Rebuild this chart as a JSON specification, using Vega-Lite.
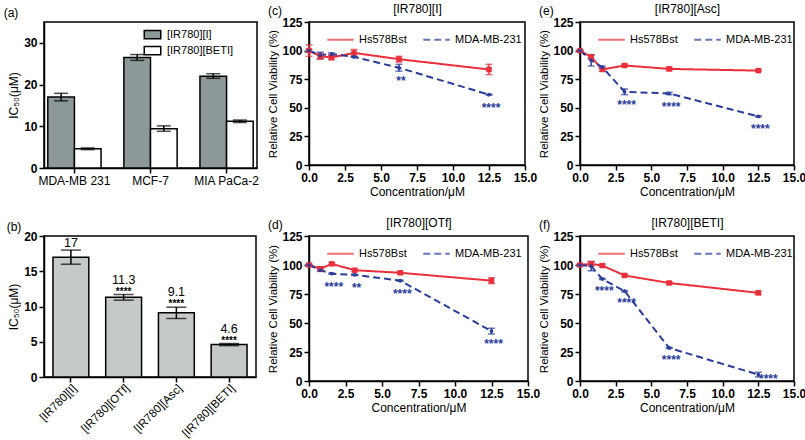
{
  "$schema": "https://vega.github.io/schema/vega-lite/v6.json",
  "padding": {"left": 2, "top": 1, "right": 2, "bottom": 0},
  "background": "white",
  "config": {
    "font": "Liberation Sans",
    "view": {"stroke": "black", "strokeWidth": 1.5},
    "axis": {
      "labelFont": "Liberation Sans", "labelFontSize": 12, "labelColor": "black", "labelFontWeight": "bold", "labelFlush": false,
      "titleFont": "Liberation Sans", "titleFontSize": 12, "titleFontWeight": "normal", "titleColor": "black",
      "domainColor": "black", "domainWidth": 1.5, "tickColor": "black", "tickWidth": 1.5, "tickSize": 5,
      "grid": false, "labelPadding": 2, "titlePadding": 3
    },
    "title": {"font": "Liberation Sans", "fontSize": 12, "fontWeight": "normal", "color": "black"},
    "legend": {"labelFont": "Liberation Sans", "labelFontSize": 11, "labelColor": "black"}
  },
  "resolve": {
    "scale": {"color": "independent", "strokeDash": "independent", "fill": "independent"},
    "legend": {"color": "independent", "strokeDash": "independent", "fill": "independent"}
  },
  "datasets": {
    "a": [
      {"cell": "MDA-MB 231", "compound": "[IR780][I]", "ic50": 17, "lo": 16.1, "hi": 17.9},
      {"cell": "MDA-MB 231", "compound": "[IR780][BETI]", "ic50": 4.6, "lo": 4.4, "hi": 4.8},
      {"cell": "MCF-7", "compound": "[IR780][I]", "ic50": 26.5, "lo": 25.8, "hi": 27.2},
      {"cell": "MCF-7", "compound": "[IR780][BETI]", "ic50": 9.4, "lo": 8.8, "hi": 10.1},
      {"cell": "MIA PaCa-2", "compound": "[IR780][I]", "ic50": 22, "lo": 21.5, "hi": 22.6},
      {"cell": "MIA PaCa-2", "compound": "[IR780][BETI]", "ic50": 11.2, "lo": 10.9, "hi": 11.5}
    ],
    "b": [
      {"compound": "[IR780][I]", "ic50": 17, "lo": 16, "hi": 18, "label": "17", "stars": ""},
      {"compound": "[IR780][OTf]", "ic50": 11.3, "lo": 10.9, "hi": 11.7, "label": "11.3", "stars": "****"},
      {"compound": "[IR780][Asc]", "ic50": 9.1, "lo": 8.3, "hi": 9.9, "label": "9.1", "stars": "****"},
      {"compound": "[IR780][BETI]", "ic50": 4.6, "lo": 4.45, "hi": 4.75, "label": "4.6", "stars": "****"}
    ],
    "via": [
      {"panel": "c", "series": "Hs578Bst", "conc": 0, "v": 100, "lo": 95, "hi": 105, "stars": ""},
      {"panel": "c", "series": "Hs578Bst", "conc": 0.78, "v": 95, "lo": 92.5, "hi": 97.5, "stars": ""},
      {"panel": "c", "series": "Hs578Bst", "conc": 1.56, "v": 94, "lo": 92, "hi": 96, "stars": ""},
      {"panel": "c", "series": "Hs578Bst", "conc": 3.125, "v": 98, "lo": 95, "hi": 101, "stars": ""},
      {"panel": "c", "series": "Hs578Bst", "conc": 6.25, "v": 92.5, "lo": 90, "hi": 95, "stars": ""},
      {"panel": "c", "series": "Hs578Bst", "conc": 12.5, "v": 83.5, "lo": 79, "hi": 88, "stars": ""},
      {"panel": "c", "series": "MDA-MB-231", "conc": 0, "v": 100, "lo": 99, "hi": 101, "stars": ""},
      {"panel": "c", "series": "MDA-MB-231", "conc": 0.78, "v": 96, "lo": 93, "hi": 98.5, "stars": ""},
      {"panel": "c", "series": "MDA-MB-231", "conc": 1.56, "v": 97, "lo": 96, "hi": 98, "stars": ""},
      {"panel": "c", "series": "MDA-MB-231", "conc": 3.125, "v": 94.5, "lo": 94, "hi": 95, "stars": ""},
      {"panel": "c", "series": "MDA-MB-231", "conc": 6.25, "v": 85, "lo": 82, "hi": 88, "stars": "**"},
      {"panel": "c", "series": "MDA-MB-231", "conc": 12.5, "v": 61.5, "lo": 61, "hi": 62, "stars": "****"},

      {"panel": "d", "series": "Hs578Bst", "conc": 0, "v": 100, "lo": 99.5, "hi": 100.5, "stars": ""},
      {"panel": "d", "series": "Hs578Bst", "conc": 0.78, "v": 96.8, "lo": 95, "hi": 98.5, "stars": ""},
      {"panel": "d", "series": "Hs578Bst", "conc": 1.56, "v": 101, "lo": 100, "hi": 102, "stars": ""},
      {"panel": "d", "series": "Hs578Bst", "conc": 3.125, "v": 95.5, "lo": 94.5, "hi": 96.5, "stars": ""},
      {"panel": "d", "series": "Hs578Bst", "conc": 6.25, "v": 93.3, "lo": 92.5, "hi": 94, "stars": ""},
      {"panel": "d", "series": "Hs578Bst", "conc": 12.5, "v": 86.5, "lo": 84, "hi": 89, "stars": ""},
      {"panel": "d", "series": "MDA-MB-231", "conc": 0, "v": 100, "lo": 99.5, "hi": 100.5, "stars": ""},
      {"panel": "d", "series": "MDA-MB-231", "conc": 0.78, "v": 95.5, "lo": 94.5, "hi": 96.5, "stars": ""},
      {"panel": "d", "series": "MDA-MB-231", "conc": 1.56, "v": 92.5, "lo": 92, "hi": 93, "stars": "****"},
      {"panel": "d", "series": "MDA-MB-231", "conc": 3.125, "v": 91.5, "lo": 91, "hi": 92, "stars": "**"},
      {"panel": "d", "series": "MDA-MB-231", "conc": 6.25, "v": 86.5, "lo": 86, "hi": 87, "stars": "****"},
      {"panel": "d", "series": "MDA-MB-231", "conc": 12.5, "v": 43, "lo": 40.5, "hi": 45.5, "stars": "****"},

      {"panel": "e", "series": "Hs578Bst", "conc": 0, "v": 100, "lo": 99.5, "hi": 100.5, "stars": ""},
      {"panel": "e", "series": "Hs578Bst", "conc": 0.78, "v": 94.5, "lo": 93, "hi": 96, "stars": ""},
      {"panel": "e", "series": "Hs578Bst", "conc": 1.56, "v": 83.5, "lo": 82, "hi": 85, "stars": ""},
      {"panel": "e", "series": "Hs578Bst", "conc": 3.125, "v": 87, "lo": 86, "hi": 88, "stars": ""},
      {"panel": "e", "series": "Hs578Bst", "conc": 6.25, "v": 84, "lo": 82.5, "hi": 85.5, "stars": ""},
      {"panel": "e", "series": "Hs578Bst", "conc": 12.5, "v": 82.5, "lo": 82, "hi": 83, "stars": ""},
      {"panel": "e", "series": "MDA-MB-231", "conc": 0, "v": 100, "lo": 99.5, "hi": 100.5, "stars": ""},
      {"panel": "e", "series": "MDA-MB-231", "conc": 0.78, "v": 91.5, "lo": 86.5, "hi": 96.5, "stars": ""},
      {"panel": "e", "series": "MDA-MB-231", "conc": 1.56, "v": 85.5, "lo": 84.5, "hi": 86.5, "stars": ""},
      {"panel": "e", "series": "MDA-MB-231", "conc": 3.125, "v": 64, "lo": 61.5, "hi": 66.5, "stars": "****"},
      {"panel": "e", "series": "MDA-MB-231", "conc": 6.25, "v": 62.5, "lo": 61.5, "hi": 63.5, "stars": "****"},
      {"panel": "e", "series": "MDA-MB-231", "conc": 12.5, "v": 42.5, "lo": 42, "hi": 43, "stars": "****"},

      {"panel": "f", "series": "Hs578Bst", "conc": 0, "v": 100, "lo": 99.5, "hi": 100.5, "stars": ""},
      {"panel": "f", "series": "Hs578Bst", "conc": 0.78, "v": 101, "lo": 99, "hi": 103, "stars": ""},
      {"panel": "f", "series": "Hs578Bst", "conc": 1.56, "v": 99.5, "lo": 98.5, "hi": 100.5, "stars": ""},
      {"panel": "f", "series": "Hs578Bst", "conc": 3.125, "v": 91, "lo": 90, "hi": 92, "stars": ""},
      {"panel": "f", "series": "Hs578Bst", "conc": 6.25, "v": 84.5, "lo": 83.5, "hi": 85.5, "stars": ""},
      {"panel": "f", "series": "Hs578Bst", "conc": 12.5, "v": 76, "lo": 74.5, "hi": 77.5, "stars": ""},
      {"panel": "f", "series": "MDA-MB-231", "conc": 0, "v": 100, "lo": 99.5, "hi": 100.5, "stars": ""},
      {"panel": "f", "series": "MDA-MB-231", "conc": 0.78, "v": 99, "lo": 95, "hi": 103, "stars": ""},
      {"panel": "f", "series": "MDA-MB-231", "conc": 1.56, "v": 88, "lo": 87.5, "hi": 88.5, "stars": "****"},
      {"panel": "f", "series": "MDA-MB-231", "conc": 3.125, "v": 77.5, "lo": 77, "hi": 78, "stars": "****"},
      {"panel": "f", "series": "MDA-MB-231", "conc": 6.25, "v": 28.5, "lo": 28, "hi": 29, "stars": "****"},
      {"panel": "f", "series": "MDA-MB-231", "conc": 12.5, "v": 5.5, "lo": 3.5, "hi": 7.5, "stars": "****"}
    ]
  },
  "columns": 3,
  "spacing": {"row": 68, "column": 52},
  "bounds": "flush",
  "align": "each",
  "concat": [
    {
      "width": 213, "height": 146,
      "title": {"text": "(a)", "anchor": "start", "dx": -4, "offset": 2},
      "data": {"name": "a"},
      "encoding": {
        "x": {"field": "cell", "type": "nominal", "sort": ["MDA-MB 231", "MCF-7", "MIA PaCa-2"], "scale": {"paddingInner": 0.3, "paddingOuter": 0.05}, "axis": {"labelAngle": 0, "title": null, "labelFontWeight": "normal"}},
        "xOffset": {"field": "compound", "type": "nominal", "sort": ["[IR780][I]", "[IR780][BETI]"]}
      },
      "layer": [
        {
          "mark": {"type": "bar", "stroke": "black", "strokeWidth": 1.5},
          "encoding": {
            "y": {"field": "ic50", "type": "quantitative", "scale": {"domain": [0, 35], "padding": 0, "nice": false}, "axis": {"values": [0, 10, 20, 30]}, "title": "IC₅₀(μM)"},
            "fill": {"field": "compound", "type": "nominal", "scale": {"domain": ["[IR780][I]", "[IR780][BETI]"], "range": ["#8d9898", "#ffffff"]},
              "legend": {"orient": "none", "legendX": 100, "legendY": 4, "title": null, "symbolType": "M-1.1,-0.55H1.1V0.55H-1.1Z", "symbolSize": 225, "symbolStrokeColor": "black", "symbolStrokeWidth": 1.5, "labelFontSize": 11, "rowPadding": 0, "labelOffset": 6}}
          }
        },
        {
          "mark": {"type": "rule", "color": "black", "strokeWidth": 1.5},
          "encoding": {"y": {"field": "lo", "type": "quantitative", "axis": {"values": [0, 10, 20, 30]}, "title": "IC₅₀(μM)"}, "y2": {"field": "hi"}}
        },
        {
          "mark": {"type": "tick", "color": "black", "size": 14, "thickness": 1.5},
          "encoding": {"y": {"field": "lo", "type": "quantitative", "axis": {"values": [0, 10, 20, 30]}, "title": "IC₅₀(μM)"}}
        },
        {
          "mark": {"type": "tick", "color": "black", "size": 14, "thickness": 1.5},
          "encoding": {"y": {"field": "hi", "type": "quantitative", "axis": {"values": [0, 10, 20, 30]}, "title": "IC₅₀(μM)"}}
        }
      ]
    },
    {
      "width": 216, "height": 143,
      "title": {"text": "(c)", "anchor": "start", "offset": -16},
      "data": {"name": "via"},
      "transform": [{"filter": "datum.panel == 'c'"}],
      "layer": [
        {
          "mark": {"type": "rule", "strokeWidth": 1.5},
          "encoding": {
            "x": {"field": "conc", "type": "quantitative", "scale": {"domain": [0, 15], "padding": 0, "nice": false}, "axis": {"values": [0, 2.5, 5, 7.5, 10, 12.5, 15], "format": ".1f", "title": "Concentration/μM"}},
            "y": {"field": "lo", "type": "quantitative", "scale": {"domain": [0, 125], "padding": 0, "nice": false}, "axis": {"values": [0, 25, 50, 75, 100, 125], "titleFontSize": 11.5}, "title": "Relative Cell Viability (%)"},
            "y2": {"field": "hi"},
            "color": {"field": "series", "type": "nominal", "scale": {"domain": ["Hs578Bst", "MDA-MB-231"], "range": ["#e8303c", "#2b3c9b"]}}
          }
        },
        {
          "mark": {"type": "tick", "orient": "horizontal", "size": 7, "thickness": 1.5},
          "encoding": {
            "x": {"field": "conc", "type": "quantitative", "axis": null},
            "y": {"field": "lo", "type": "quantitative", "axis": {"values": [0, 25, 50, 75, 100, 125], "titleFontSize": 11.5}, "title": "Relative Cell Viability (%)"},
            "color": {"field": "series", "type": "nominal"}
          }
        },
        {
          "mark": {"type": "tick", "orient": "horizontal", "size": 7, "thickness": 1.5},
          "encoding": {
            "x": {"field": "conc", "type": "quantitative", "axis": null},
            "y": {"field": "hi", "type": "quantitative", "axis": {"values": [0, 25, 50, 75, 100, 125], "titleFontSize": 11.5}, "title": "Relative Cell Viability (%)"},
            "color": {"field": "series", "type": "nominal"}
          }
        },
        {
          "mark": {"type": "line", "strokeWidth": 2},
          "encoding": {
            "x": {"field": "conc", "type": "quantitative", "axis": {"orient": "top", "title": "[IR780][I]", "labels": false, "ticks": false, "domain": false, "titlePadding": 7}},
            "y": {"field": "v", "type": "quantitative", "axis": {"values": [0, 25, 50, 75, 100, 125], "titleFontSize": 11.5}, "title": "Relative Cell Viability (%)"},
            "color": {"field": "series", "type": "nominal", "legend": {"orient": "none", "legendX": 17, "legendY": 3, "direction": "horizontal", "title": null, "symbolType": "stroke", "symbolSize": 700, "symbolStrokeWidth": 2, "columnPadding": 12, "labelOffset": 4}},
            "strokeDash": {"field": "series", "type": "nominal", "scale": {"domain": ["Hs578Bst", "MDA-MB-231"], "range": [[1, 0], [7, 4]]}, "legend": {"orient": "none", "legendX": 17, "legendY": 3, "direction": "horizontal", "title": null, "symbolType": "stroke", "symbolSize": 700, "symbolStrokeWidth": 2, "columnPadding": 12, "labelOffset": 4}}
          }
        },
        {
          "transform": [{"filter": "datum.series == 'Hs578Bst'"}],
          "mark": {"type": "point", "shape": "square", "filled": true, "opacity": 1, "size": 30, "color": "#e8303c"},
          "encoding": {"x": {"field": "conc", "type": "quantitative", "axis": null}, "y": {"field": "v", "type": "quantitative", "axis": {"values": [0, 25, 50, 75, 100, 125], "titleFontSize": 11.5}, "title": "Relative Cell Viability (%)"}}
        },
        {
          "transform": [{"filter": "datum.series == 'MDA-MB-231'"}],
          "mark": {"type": "point", "shape": "circle", "filled": true, "opacity": 1, "size": 14, "color": "#2b3c9b"},
          "encoding": {"x": {"field": "conc", "type": "quantitative", "axis": null}, "y": {"field": "v", "type": "quantitative", "axis": {"values": [0, 25, 50, 75, 100, 125], "titleFontSize": 11.5}, "title": "Relative Cell Viability (%)"}}
        },
        {
          "transform": [{"filter": "datum.stars != ''"}],
          "mark": {"type": "text", "fontSize": 12, "fontWeight": "bold", "color": "#2b3c9b", "baseline": "middle", "dy": 13, "dx": 2},
          "encoding": {"x": {"field": "conc", "type": "quantitative", "axis": null}, "y": {"field": "v", "type": "quantitative", "axis": {"values": [0, 25, 50, 75, 100, 125], "titleFontSize": 11.5}, "title": "Relative Cell Viability (%)"}, "text": {"field": "stars"}}
        }
      ],
      "resolve": {"axis": {"x": "independent"}}
    },
    {
      "width": 214, "height": 143,
      "title": {"text": "(e)", "anchor": "start", "offset": -16},
      "data": {"name": "via"},
      "transform": [{"filter": "datum.panel == 'e'"}],
      "layer": [
        {
          "mark": {"type": "rule", "strokeWidth": 1.5},
          "encoding": {
            "x": {"field": "conc", "type": "quantitative", "scale": {"domain": [0, 15], "padding": 0, "nice": false}, "axis": {"values": [0, 2.5, 5, 7.5, 10, 12.5, 15], "format": ".1f", "title": "Concentration/μM"}},
            "y": {"field": "lo", "type": "quantitative", "scale": {"domain": [0, 125], "padding": 0, "nice": false}, "axis": {"values": [0, 25, 50, 75, 100, 125], "titleFontSize": 11.5}, "title": "Relative Cell Viability (%)"},
            "y2": {"field": "hi"},
            "color": {"field": "series", "type": "nominal", "scale": {"domain": ["Hs578Bst", "MDA-MB-231"], "range": ["#e8303c", "#2b3c9b"]}}
          }
        },
        {
          "mark": {"type": "tick", "orient": "horizontal", "size": 7, "thickness": 1.5},
          "encoding": {
            "x": {"field": "conc", "type": "quantitative", "axis": null},
            "y": {"field": "lo", "type": "quantitative", "axis": {"values": [0, 25, 50, 75, 100, 125], "titleFontSize": 11.5}, "title": "Relative Cell Viability (%)"},
            "color": {"field": "series", "type": "nominal"}
          }
        },
        {
          "mark": {"type": "tick", "orient": "horizontal", "size": 7, "thickness": 1.5},
          "encoding": {
            "x": {"field": "conc", "type": "quantitative", "axis": null},
            "y": {"field": "hi", "type": "quantitative", "axis": {"values": [0, 25, 50, 75, 100, 125], "titleFontSize": 11.5}, "title": "Relative Cell Viability (%)"},
            "color": {"field": "series", "type": "nominal"}
          }
        },
        {
          "mark": {"type": "line", "strokeWidth": 2},
          "encoding": {
            "x": {"field": "conc", "type": "quantitative", "axis": {"orient": "top", "title": "[IR780][Asc]", "labels": false, "ticks": false, "domain": false, "titlePadding": 7}},
            "y": {"field": "v", "type": "quantitative", "axis": {"values": [0, 25, 50, 75, 100, 125], "titleFontSize": 11.5}, "title": "Relative Cell Viability (%)"},
            "color": {"field": "series", "type": "nominal", "legend": {"orient": "none", "legendX": 17, "legendY": 3, "direction": "horizontal", "title": null, "symbolType": "stroke", "symbolSize": 700, "symbolStrokeWidth": 2, "columnPadding": 12, "labelOffset": 4}},
            "strokeDash": {"field": "series", "type": "nominal", "scale": {"domain": ["Hs578Bst", "MDA-MB-231"], "range": [[1, 0], [7, 4]]}, "legend": {"orient": "none", "legendX": 17, "legendY": 3, "direction": "horizontal", "title": null, "symbolType": "stroke", "symbolSize": 700, "symbolStrokeWidth": 2, "columnPadding": 12, "labelOffset": 4}}
          }
        },
        {
          "transform": [{"filter": "datum.series == 'Hs578Bst'"}],
          "mark": {"type": "point", "shape": "square", "filled": true, "opacity": 1, "size": 30, "color": "#e8303c"},
          "encoding": {"x": {"field": "conc", "type": "quantitative", "axis": null}, "y": {"field": "v", "type": "quantitative", "axis": {"values": [0, 25, 50, 75, 100, 125], "titleFontSize": 11.5}, "title": "Relative Cell Viability (%)"}}
        },
        {
          "transform": [{"filter": "datum.series == 'MDA-MB-231'"}],
          "mark": {"type": "point", "shape": "circle", "filled": true, "opacity": 1, "size": 14, "color": "#2b3c9b"},
          "encoding": {"x": {"field": "conc", "type": "quantitative", "axis": null}, "y": {"field": "v", "type": "quantitative", "axis": {"values": [0, 25, 50, 75, 100, 125], "titleFontSize": 11.5}, "title": "Relative Cell Viability (%)"}}
        },
        {
          "transform": [{"filter": "datum.stars != ''"}],
          "mark": {"type": "text", "fontSize": 12, "fontWeight": "bold", "color": "#2b3c9b", "baseline": "middle", "dy": 13, "dx": 2},
          "encoding": {"x": {"field": "conc", "type": "quantitative", "axis": null}, "y": {"field": "v", "type": "quantitative", "axis": {"values": [0, 25, 50, 75, 100, 125], "titleFontSize": 11.5}, "title": "Relative Cell Viability (%)"}, "text": {"field": "stars"}}
        }
      ],
      "resolve": {"axis": {"x": "independent"}}
    },
    {
      "width": 212, "height": 141,
      "title": {"text": "(b)", "anchor": "start", "dx": -1, "offset": -4},
      "data": {"name": "b"},
      "encoding": {
        "x": {"field": "compound", "type": "nominal", "sort": ["[IR780][I]", "[IR780][OTf]", "[IR780][Asc]", "[IR780][BETI]"], "scale": {"paddingInner": 0.32, "paddingOuter": 0.17}, "axis": {"labelAngle": -45, "title": null, "labelFontSize": 11.5, "labelFontWeight": "normal", "labelPadding": 0}}
      },
      "layer": [
        {
          "mark": {"type": "bar", "stroke": "black", "strokeWidth": 1.5, "fill": "#c5c9c9"},
          "encoding": {
            "y": {"field": "ic50", "type": "quantitative", "scale": {"domain": [0, 20], "padding": 0, "nice": false}, "axis": {"values": [0, 5, 10, 15, 20]}, "title": "IC₅₀(μM)"}
          }
        },
        {
          "mark": {"type": "rule", "color": "black", "strokeWidth": 1.5},
          "encoding": {"y": {"field": "lo", "type": "quantitative", "axis": {"values": [0, 5, 10, 15, 20]}, "title": "IC₅₀(μM)"}, "y2": {"field": "hi"}}
        },
        {
          "mark": {"type": "tick", "color": "black", "size": 20, "thickness": 1.5},
          "encoding": {"y": {"field": "lo", "type": "quantitative", "axis": {"values": [0, 5, 10, 15, 20]}, "title": "IC₅₀(μM)"}}
        },
        {
          "mark": {"type": "tick", "color": "black", "size": 20, "thickness": 1.5},
          "encoding": {"y": {"field": "hi", "type": "quantitative", "axis": {"values": [0, 5, 10, 15, 20]}, "title": "IC₅₀(μM)"}}
        },
        {
          "transform": [{"filter": "datum.stars != ''"}],
          "mark": {"type": "text", "fontSize": 10, "fontWeight": "bold", "color": "black", "baseline": "bottom", "dy": 2},
          "encoding": {"y": {"field": "hi", "type": "quantitative", "axis": {"values": [0, 5, 10, 15, 20]}, "title": "IC₅₀(μM)"}, "text": {"field": "stars"}}
        },
        {
          "transform": [{"filter": "datum.stars != ''"}],
          "mark": {"type": "text", "fontSize": 12.5, "color": "black", "baseline": "alphabetic", "dy": -11},
          "encoding": {"y": {"field": "hi", "type": "quantitative", "axis": {"values": [0, 5, 10, 15, 20]}, "title": "IC₅₀(μM)"}, "text": {"field": "label"}}
        },
        {
          "transform": [{"filter": "datum.stars == ''"}],
          "mark": {"type": "text", "fontSize": 12.5, "color": "black", "baseline": "alphabetic", "dy": -3},
          "encoding": {"y": {"field": "hi", "type": "quantitative", "axis": {"values": [0, 5, 10, 15, 20]}, "title": "IC₅₀(μM)"}, "text": {"field": "label"}}
        }
      ]
    },
    {
      "width": 219, "height": 145,
      "title": {"text": "(d)", "anchor": "start", "offset": -16},
      "data": {"name": "via"},
      "transform": [{"filter": "datum.panel == 'd'"}],
      "layer": [
        {
          "mark": {"type": "rule", "strokeWidth": 1.5},
          "encoding": {
            "x": {"field": "conc", "type": "quantitative", "scale": {"domain": [0, 15], "padding": 0, "nice": false}, "axis": {"values": [0, 2.5, 5, 7.5, 10, 12.5, 15], "format": ".1f", "title": "Concentration/μM"}},
            "y": {"field": "lo", "type": "quantitative", "scale": {"domain": [0, 125], "padding": 0, "nice": false}, "axis": {"values": [0, 25, 50, 75, 100, 125], "titleFontSize": 11.5}, "title": "Relative Cell Viability (%)"},
            "y2": {"field": "hi"},
            "color": {"field": "series", "type": "nominal", "scale": {"domain": ["Hs578Bst", "MDA-MB-231"], "range": ["#e8303c", "#2b3c9b"]}}
          }
        },
        {
          "mark": {"type": "tick", "orient": "horizontal", "size": 7, "thickness": 1.5},
          "encoding": {
            "x": {"field": "conc", "type": "quantitative", "axis": null},
            "y": {"field": "lo", "type": "quantitative", "axis": {"values": [0, 25, 50, 75, 100, 125], "titleFontSize": 11.5}, "title": "Relative Cell Viability (%)"},
            "color": {"field": "series", "type": "nominal"}
          }
        },
        {
          "mark": {"type": "tick", "orient": "horizontal", "size": 7, "thickness": 1.5},
          "encoding": {
            "x": {"field": "conc", "type": "quantitative", "axis": null},
            "y": {"field": "hi", "type": "quantitative", "axis": {"values": [0, 25, 50, 75, 100, 125], "titleFontSize": 11.5}, "title": "Relative Cell Viability (%)"},
            "color": {"field": "series", "type": "nominal"}
          }
        },
        {
          "mark": {"type": "line", "strokeWidth": 2},
          "encoding": {
            "x": {"field": "conc", "type": "quantitative", "axis": {"orient": "top", "title": "[IR780][OTf]", "labels": false, "ticks": false, "domain": false, "titlePadding": 7}},
            "y": {"field": "v", "type": "quantitative", "axis": {"values": [0, 25, 50, 75, 100, 125], "titleFontSize": 11.5}, "title": "Relative Cell Viability (%)"},
            "color": {"field": "series", "type": "nominal", "legend": {"orient": "none", "legendX": 17, "legendY": 3, "direction": "horizontal", "title": null, "symbolType": "stroke", "symbolSize": 700, "symbolStrokeWidth": 2, "columnPadding": 12, "labelOffset": 4}},
            "strokeDash": {"field": "series", "type": "nominal", "scale": {"domain": ["Hs578Bst", "MDA-MB-231"], "range": [[1, 0], [7, 4]]}, "legend": {"orient": "none", "legendX": 17, "legendY": 3, "direction": "horizontal", "title": null, "symbolType": "stroke", "symbolSize": 700, "symbolStrokeWidth": 2, "columnPadding": 12, "labelOffset": 4}}
          }
        },
        {
          "transform": [{"filter": "datum.series == 'Hs578Bst'"}],
          "mark": {"type": "point", "shape": "square", "filled": true, "opacity": 1, "size": 30, "color": "#e8303c"},
          "encoding": {"x": {"field": "conc", "type": "quantitative", "axis": null}, "y": {"field": "v", "type": "quantitative", "axis": {"values": [0, 25, 50, 75, 100, 125], "titleFontSize": 11.5}, "title": "Relative Cell Viability (%)"}}
        },
        {
          "transform": [{"filter": "datum.series == 'MDA-MB-231'"}],
          "mark": {"type": "point", "shape": "circle", "filled": true, "opacity": 1, "size": 14, "color": "#2b3c9b"},
          "encoding": {"x": {"field": "conc", "type": "quantitative", "axis": null}, "y": {"field": "v", "type": "quantitative", "axis": {"values": [0, 25, 50, 75, 100, 125], "titleFontSize": 11.5}, "title": "Relative Cell Viability (%)"}}
        },
        {
          "transform": [{"filter": "datum.stars != ''"}],
          "mark": {"type": "text", "fontSize": 12, "fontWeight": "bold", "color": "#2b3c9b", "baseline": "middle", "dy": 13, "dx": 2},
          "encoding": {"x": {"field": "conc", "type": "quantitative", "axis": null}, "y": {"field": "v", "type": "quantitative", "axis": {"values": [0, 25, 50, 75, 100, 125], "titleFontSize": 11.5}, "title": "Relative Cell Viability (%)"}, "text": {"field": "stars"}}
        }
      ],
      "resolve": {"axis": {"x": "independent"}}
    },
    {
      "width": 214, "height": 145,
      "title": {"text": "(f)", "anchor": "start", "offset": -16},
      "data": {"name": "via"},
      "transform": [{"filter": "datum.panel == 'f'"}],
      "layer": [
        {
          "mark": {"type": "rule", "strokeWidth": 1.5},
          "encoding": {
            "x": {"field": "conc", "type": "quantitative", "scale": {"domain": [0, 15], "padding": 0, "nice": false}, "axis": {"values": [0, 2.5, 5, 7.5, 10, 12.5, 15], "format": ".1f", "title": "Concentration/μM"}},
            "y": {"field": "lo", "type": "quantitative", "scale": {"domain": [0, 125], "padding": 0, "nice": false}, "axis": {"values": [0, 25, 50, 75, 100, 125], "titleFontSize": 11.5}, "title": "Relative Cell Viability (%)"},
            "y2": {"field": "hi"},
            "color": {"field": "series", "type": "nominal", "scale": {"domain": ["Hs578Bst", "MDA-MB-231"], "range": ["#e8303c", "#2b3c9b"]}}
          }
        },
        {
          "mark": {"type": "tick", "orient": "horizontal", "size": 7, "thickness": 1.5},
          "encoding": {
            "x": {"field": "conc", "type": "quantitative", "axis": null},
            "y": {"field": "lo", "type": "quantitative", "axis": {"values": [0, 25, 50, 75, 100, 125], "titleFontSize": 11.5}, "title": "Relative Cell Viability (%)"},
            "color": {"field": "series", "type": "nominal"}
          }
        },
        {
          "mark": {"type": "tick", "orient": "horizontal", "size": 7, "thickness": 1.5},
          "encoding": {
            "x": {"field": "conc", "type": "quantitative", "axis": null},
            "y": {"field": "hi", "type": "quantitative", "axis": {"values": [0, 25, 50, 75, 100, 125], "titleFontSize": 11.5}, "title": "Relative Cell Viability (%)"},
            "color": {"field": "series", "type": "nominal"}
          }
        },
        {
          "mark": {"type": "line", "strokeWidth": 2},
          "encoding": {
            "x": {"field": "conc", "type": "quantitative", "axis": {"orient": "top", "title": "[IR780][BETI]", "labels": false, "ticks": false, "domain": false, "titlePadding": 7}},
            "y": {"field": "v", "type": "quantitative", "axis": {"values": [0, 25, 50, 75, 100, 125], "titleFontSize": 11.5}, "title": "Relative Cell Viability (%)"},
            "color": {"field": "series", "type": "nominal", "legend": {"orient": "none", "legendX": 17, "legendY": 3, "direction": "horizontal", "title": null, "symbolType": "stroke", "symbolSize": 700, "symbolStrokeWidth": 2, "columnPadding": 12, "labelOffset": 4}},
            "strokeDash": {"field": "series", "type": "nominal", "scale": {"domain": ["Hs578Bst", "MDA-MB-231"], "range": [[1, 0], [7, 4]]}, "legend": {"orient": "none", "legendX": 17, "legendY": 3, "direction": "horizontal", "title": null, "symbolType": "stroke", "symbolSize": 700, "symbolStrokeWidth": 2, "columnPadding": 12, "labelOffset": 4}}
          }
        },
        {
          "transform": [{"filter": "datum.series == 'Hs578Bst'"}],
          "mark": {"type": "point", "shape": "square", "filled": true, "opacity": 1, "size": 30, "color": "#e8303c"},
          "encoding": {"x": {"field": "conc", "type": "quantitative", "axis": null}, "y": {"field": "v", "type": "quantitative", "axis": {"values": [0, 25, 50, 75, 100, 125], "titleFontSize": 11.5}, "title": "Relative Cell Viability (%)"}}
        },
        {
          "transform": [{"filter": "datum.series == 'MDA-MB-231'"}],
          "mark": {"type": "point", "shape": "circle", "filled": true, "opacity": 1, "size": 14, "color": "#2b3c9b"},
          "encoding": {"x": {"field": "conc", "type": "quantitative", "axis": null}, "y": {"field": "v", "type": "quantitative", "axis": {"values": [0, 25, 50, 75, 100, 125], "titleFontSize": 11.5}, "title": "Relative Cell Viability (%)"}}
        },
        {
          "transform": [{"filter": "datum.stars != '' && datum.v >= 15"}],
          "mark": {"type": "text", "fontSize": 12, "fontWeight": "bold", "color": "#2b3c9b", "baseline": "middle", "dy": 12, "dx": 2},
          "encoding": {"x": {"field": "conc", "type": "quantitative", "axis": null}, "y": {"field": "v", "type": "quantitative", "axis": {"values": [0, 25, 50, 75, 100, 125], "titleFontSize": 11.5}, "title": "Relative Cell Viability (%)"}, "text": {"field": "stars"}}
        },
        {
          "transform": [{"filter": "datum.stars != '' && datum.v < 15"}],
          "mark": {"type": "text", "fontSize": 12, "fontWeight": "bold", "color": "#2b3c9b", "baseline": "middle", "dy": 4, "dx": 10},
          "encoding": {"x": {"field": "conc", "type": "quantitative", "axis": null}, "y": {"field": "v", "type": "quantitative", "axis": {"values": [0, 25, 50, 75, 100, 125], "titleFontSize": 11.5}, "title": "Relative Cell Viability (%)"}, "text": {"field": "stars"}}
        }
      ],
      "resolve": {"axis": {"x": "independent"}}
    }
  ]
}
